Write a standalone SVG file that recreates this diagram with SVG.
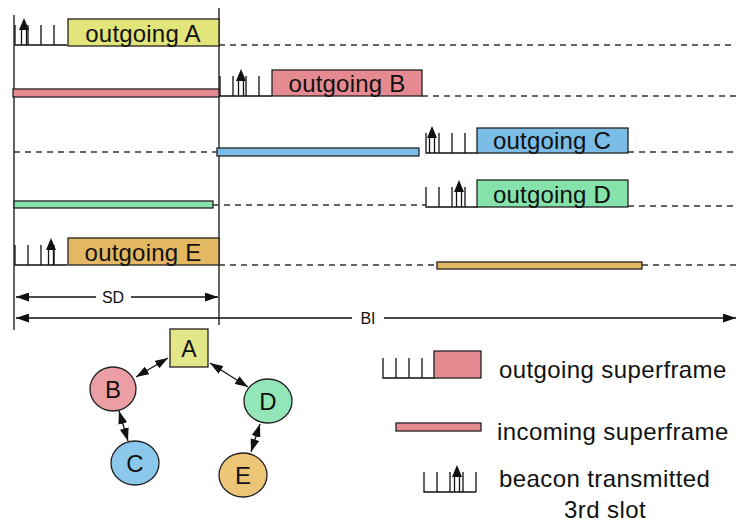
<svg xmlns="http://www.w3.org/2000/svg" width="736" height="525" viewBox="0 0 736 525">
<style>
text{font-family:"Liberation Sans",Arial,sans-serif;fill:#111}
.box{stroke:#222;stroke-width:1.3}
.lbl{font-size:24px;text-anchor:middle;letter-spacing:0.2px}
.leg{font-size:24px;letter-spacing:0.4px}
.dash{stroke:#333;stroke-width:1.3;stroke-dasharray:6 5;fill:none}
.ln{stroke:#111;stroke-width:1.3;fill:none}
.node{font-size:24px;text-anchor:middle}
.hd{fill:#111}
.yel{fill:#e1e57a}.pnk{fill:#e68a92}.blu{fill:#7bbde6}.grn{fill:#84e2aa}.org{fill:#e4b863}
</style>
<defs>
<marker id="ah" viewBox="0 0 13 9" refX="13" refY="4.5" markerWidth="13" markerHeight="9" markerUnits="userSpaceOnUse" orient="auto-start-reverse"><path d="M0,0L13,4.5L0,9z" fill="#111"/></marker>
<marker id="ahL" viewBox="0 0 13 9" refX="13" refY="4.5" markerWidth="13" markerHeight="9" markerUnits="userSpaceOnUse" orient="auto-start-reverse"><path d="M0,0L13,4.5L0,9z" fill="#111"/></marker>
<path id="slots" d="M0,-20V0H52M13,-20V0M26,-20V0M39,-20V0" class="ln"/>
<g id="beacon"><path d="M-2.5,0V-16M2.5,0V-16" class="ln"/><path d="M0,-27L5,-15H-5z" class="hd"/></g>
</defs>

<g id="frame">
<line x1="14" y1="15" x2="14" y2="330" class="ln"/>
<line x1="219" y1="8" x2="219" y2="325" class="ln"/>
</g>

<g id="connectors">
<line x1="219" y1="45" x2="736" y2="45" class="dash"/>
<line x1="422" y1="96" x2="736" y2="96" class="dash"/>
<line x1="14" y1="152" x2="217" y2="152" class="dash"/>
<line x1="628" y1="152" x2="736" y2="152" class="dash"/>
<line x1="213" y1="205" x2="426" y2="205" class="dash"/>
<line x1="628" y1="206" x2="736" y2="206" class="dash"/>
<line x1="219" y1="265" x2="437" y2="265" class="dash"/>
<line x1="642" y1="265" x2="736" y2="265" class="dash"/>
<line x1="16" y1="297" x2="96" y2="297" class="ln" marker-start="url(#ahL)"/>
<line x1="131" y1="297" x2="218" y2="297" class="ln" marker-end="url(#ahL)"/>
<line x1="16" y1="318" x2="352" y2="318" class="ln" marker-start="url(#ahL)"/>
<line x1="384" y1="318" x2="736" y2="318" class="ln" marker-end="url(#ahL)"/>
<line x1="168" y1="358" x2="136" y2="377" class="ln" marker-start="url(#ah)" marker-end="url(#ah)"/>
<line x1="210" y1="363" x2="248" y2="387" class="ln" marker-start="url(#ah)" marker-end="url(#ah)"/>
<line x1="119" y1="411" x2="128" y2="441" class="ln" marker-start="url(#ah)" marker-end="url(#ah)"/>
<line x1="260" y1="424" x2="251" y2="452" class="ln" marker-start="url(#ah)" marker-end="url(#ah)"/>
</g>

<text x="113" y="303" style="font-size:16px;text-anchor:middle">SD</text>
<text x="368" y="324" style="font-size:16px;text-anchor:middle">BI</text>

<g id="rowA">
<use href="#slots" x="15" y="45"/>
<use href="#beacon" x="24" y="45"/>
<rect x="68" y="19" width="151" height="27" class="box yel"/>
<text x="143" y="42" class="lbl">outgoing A</text>
</g>
<g id="rowB">
<rect x="13" y="89" width="206" height="8" class="box pnk"/>
<use href="#slots" x="220" y="96"/>
<use href="#beacon" x="241" y="96"/>
<rect x="272" y="70" width="150" height="26" class="box pnk"/>
<text x="347" y="92" class="lbl">outgoing B</text>
</g>
<g id="rowC">
<rect x="217" y="148" width="202" height="8" class="box blu"/>
<use href="#slots" x="426" y="153"/>
<use href="#beacon" x="432" y="153"/>
<rect x="477" y="128" width="151" height="25" class="box blu"/>
<text x="552" y="149" class="lbl">outgoing C</text>
</g>
<g id="rowD">
<rect x="14" y="201" width="199" height="7" class="box grn"/>
<use href="#slots" x="426" y="207"/>
<use href="#beacon" x="459" y="207"/>
<rect x="477" y="180" width="151" height="27" class="box grn"/>
<text x="552" y="203" class="lbl">outgoing D</text>
</g>
<g id="rowE">
<use href="#slots" x="15" y="265"/>
<use href="#beacon" x="51" y="265"/>
<rect x="68" y="238" width="151" height="27" class="box org"/>
<text x="143" y="261" class="lbl">outgoing E</text>
<rect x="437" y="262" width="205" height="7" class="box org"/>
</g>

<g id="nodeA"><rect x="170" y="329" width="38" height="38" class="box" fill="#e3e78a"/><text x="189" y="357" class="node" style="font-size:23px">A</text></g>
<g id="nodeB"><ellipse cx="113" cy="389" rx="23" ry="22" class="box" fill="#eb9fa4"/><text x="113" y="398" class="node">B</text></g>
<g id="nodeC"><ellipse cx="135" cy="463" rx="24" ry="22" class="box" fill="#8cc8ec"/><text x="135" y="472" class="node">C</text></g>
<g id="nodeD"><ellipse cx="268" cy="401" rx="24" ry="22" class="box" fill="#93e6b7"/><text x="268" y="410" class="node">D</text></g>
<g id="nodeE"><ellipse cx="243" cy="475" rx="24" ry="22" class="box" fill="#ecc577"/><text x="243" y="484" class="node">E</text></g>

<g id="legend">
<use href="#slots" x="383" y="378"/>
<rect x="434" y="351" width="47" height="27" class="box pnk"/>
<text x="499" y="378" class="leg">outgoing superframe</text>
<rect x="396" y="423" width="85" height="8" class="box pnk"/>
<text x="497" y="440" class="leg">incoming superframe</text>
<use href="#slots" x="424" y="492"/>
<line x1="476" y1="492" x2="476" y2="472" class="ln"/>
<use href="#beacon" x="457" y="492"/>
<text x="499" y="487" class="leg">beacon transmitted</text>
<text x="605" y="518" class="leg" style="text-anchor:middle">3rd slot</text>
</g>
</svg>
